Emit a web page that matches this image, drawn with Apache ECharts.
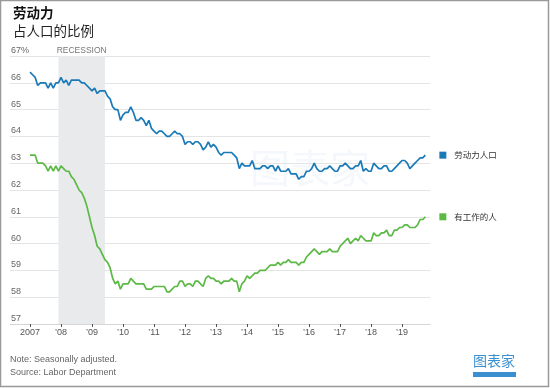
<!DOCTYPE html>
<html><head><meta charset="utf-8">
<script src="https://cdn.jsdelivr.net/npm/echarts@6/dist/echarts.min.js"></script>
<style>html,body{margin:0;padding:0;background:#fff}#c{width:550px;height:388px}</style>
</head><body><div id="c"></div>
<script>
// Monthly data, Jan 2007 – Oct 2019
const startYear = 2007;
const participation = [
 66.4,66.3,66.2,65.9,66.0,66.0,66.0,65.8,66.0,65.8,66.0,66.0,
 66.2,66.0,66.1,65.9,66.1,66.1,66.1,66.1,66.0,66.0,65.9,65.8,
 65.7,65.8,65.6,65.7,65.7,65.7,65.5,65.4,65.1,65.0,65.0,64.6,
 64.8,64.9,64.9,65.1,64.9,64.6,64.6,64.7,64.6,64.4,64.6,64.3,
 64.2,64.1,64.2,64.2,64.1,64.0,64.0,64.1,64.2,64.1,64.1,64.0,
 63.7,63.8,63.8,63.7,63.8,63.8,63.7,63.5,63.6,63.8,63.6,63.7,
 63.6,63.4,63.3,63.4,63.4,63.4,63.4,63.3,63.2,62.8,63.0,62.9,
 62.9,62.9,63.1,62.8,62.8,62.8,62.9,62.9,62.8,62.9,62.9,62.7,
 62.9,62.7,62.7,62.7,62.8,62.6,62.6,62.6,62.4,62.5,62.5,62.7,
 62.7,62.8,63.0,62.8,62.7,62.7,62.8,62.8,62.9,62.8,62.7,62.7,
 62.9,62.9,63.0,62.9,62.8,62.8,62.9,62.9,63.1,62.7,62.8,62.7,
 62.7,63.0,62.9,62.8,62.8,62.9,62.9,62.7,62.7,62.8,62.9,63.0,
 63.1,63.1,63.0,62.8,62.9,63.0,63.1,63.2,63.2,63.3
];
const employed = [
 63.3,63.3,63.3,63.0,63.0,63.0,62.9,62.7,62.9,62.7,62.9,62.7,
 62.9,62.8,62.7,62.7,62.5,62.4,62.2,62.0,61.9,61.7,61.4,61.0,
 60.6,60.3,59.9,59.8,59.6,59.4,59.3,59.1,58.7,58.5,58.6,58.3,
 58.5,58.5,58.5,58.7,58.6,58.5,58.5,58.5,58.5,58.3,58.3,58.3,
 58.4,58.4,58.4,58.4,58.4,58.2,58.2,58.3,58.4,58.4,58.6,58.6,
 58.4,58.5,58.5,58.4,58.6,58.6,58.5,58.4,58.7,58.8,58.7,58.7,
 58.6,58.6,58.5,58.6,58.6,58.6,58.7,58.6,58.6,58.2,58.5,58.6,
 58.8,58.7,58.8,58.9,58.9,59.0,59.0,59.0,59.1,59.2,59.2,59.2,
 59.3,59.2,59.3,59.3,59.4,59.3,59.3,59.3,59.2,59.3,59.3,59.5,
 59.6,59.7,59.8,59.7,59.6,59.7,59.7,59.7,59.8,59.7,59.7,59.7,
 59.9,60.0,60.1,60.2,60.0,60.1,60.2,60.1,60.3,60.2,60.1,60.1,
 60.1,60.4,60.3,60.3,60.4,60.4,60.5,60.3,60.3,60.5,60.5,60.6,
 60.6,60.7,60.7,60.6,60.6,60.6,60.7,60.9,60.9,61.0
];
const tickYears = [2007,2008,2009,2010,2011,2012,2013,2014,2015,2016,2017,2018,2019];
const recessionStart = 2007 + 11/12; // Dec 2007
const recessionEnd = 2009 + 5/12;    // Jun 2009
const seriesNames = ['劳动力人口', '有工作的人'];
const colors = ['#1a7ab8', '#5cb946'];

const toPairs = arr => arr.map((v, i) => [startYear + i / 12, v]);
const FONT = "'Liberation Sans Narrow','Liberation Sans','Noto Sans CJK SC',sans-serif";
const CJK = "'Noto Sans CJK SC',sans-serif";

const chart = echarts.init(document.getElementById('c'));
function endLabel(name, color) {
  return {
    show: true, distance: 14,
    formatter: '{sq|}{t|' + name + '}',
    rich: {
      sq: { width: 7, height: 7, backgroundColor: color },
      t: { fontFamily: CJK, fontSize: 8.5, color: '#333', padding: [0, 0, 0, 8] }
    }
  };
}
chart.setOption({
  animation: false,
  textStyle: { fontFamily: FONT },
  title: {
    text: '劳动力', subtext: '占人口的比例', left: 13, top: 6, itemGap: 5, padding: 0,
    textStyle: { fontFamily: CJK, fontSize: 13.5, fontWeight: 'bold', color: '#111' },
    subtextStyle: { fontFamily: CJK, fontSize: 13.5, color: '#222' }
  },
  grid: { left: 10, right: 120, top: 56, bottom: 64 },
  xAxis: {
    type: 'value',
    min: startYear - 20 / 31, max: 2019.9,
    splitLine: { show: false },
    axisLine: { lineStyle: { color: '#d6d6d6', width: 1 } },
    axisTick: { show: true, customValues: tickYears, length: 3, lineStyle: { color: '#555' } },
    axisLabel: {
      customValues: tickYears, margin: 4, fontSize: 9, color: '#555', fontFamily: FONT,
      formatter: v => v === 2007 ? '2007' : '’' + String(v).slice(2)
    }
  },
  yAxis: {
    type: 'value', min: 57, max: 67, interval: 1,
    axisLine: { show: false }, axisTick: { show: false },
    splitLine: { lineStyle: { color: '#e4e4e4', width: 1 } },
    axisLabel: {
      inside: true, margin: 1, verticalAlign: 'bottom', padding: [0, 0, 1, 0],
      fontSize: 9, color: '#666', fontFamily: FONT,
      formatter: v => v === 67 ? '67%' : String(v)
    }
  },
  series: [
    {
      name: seriesNames[0], type: 'line', data: toPairs(participation),
      showSymbol: false, symbol: 'none', z: 3,
      lineStyle: { color: colors[0], width: 1.7 },
      endLabel: endLabel(seriesNames[0], colors[0]),
      markArea: {
        silent: true,
        itemStyle: { color: '#e9eaec' },
        label: { show: true, position: 'top', distance: 1, fontSize: 8.5, color: '#777', fontFamily: FONT },
        data: [[{ name: 'RECESSION', xAxis: recessionStart, yAxis: 67 }, { xAxis: recessionEnd, yAxis: 57 }]]
      }
    },
    {
      name: seriesNames[1], type: 'line', data: toPairs(employed),
      showSymbol: false, symbol: 'none', z: 3,
      lineStyle: { color: colors[1], width: 1.7 },
      endLabel: endLabel(seriesNames[1], colors[1])
    }
  ],
  graphic: [
    { type: 'rect', shape: { x: 0.5, y: 0.5, width: 548, height: 386 }, style: { fill: null, stroke: '#999', lineWidth: 1.5 }, z: 100 },
    { type: 'text', left: 10, top: 355, style: { text: 'Note: Seasonally adjusted.', fontSize: 9, fill: '#666', fontFamily: FONT } },
    { type: 'text', left: 10, top: 368, style: { text: 'Source: Labor Department', fontSize: 9, fill: '#666', fontFamily: FONT } },
    { type: 'text', left: 473, top: 354, style: { text: '图表家', fontSize: 14, fill: '#3a8fd0', fontFamily: CJK } },
    { type: 'rect', shape: { x: 473, y: 372, width: 43, height: 5 }, style: { fill: '#3a8fd0' } },
    { type: 'text', left: 250, top: 148, z: 0, style: { text: '图表家', fontSize: 40, fill: 'rgba(60,140,210,0.06)', fontFamily: CJK } }
  ]
});
</script>
</body></html>
